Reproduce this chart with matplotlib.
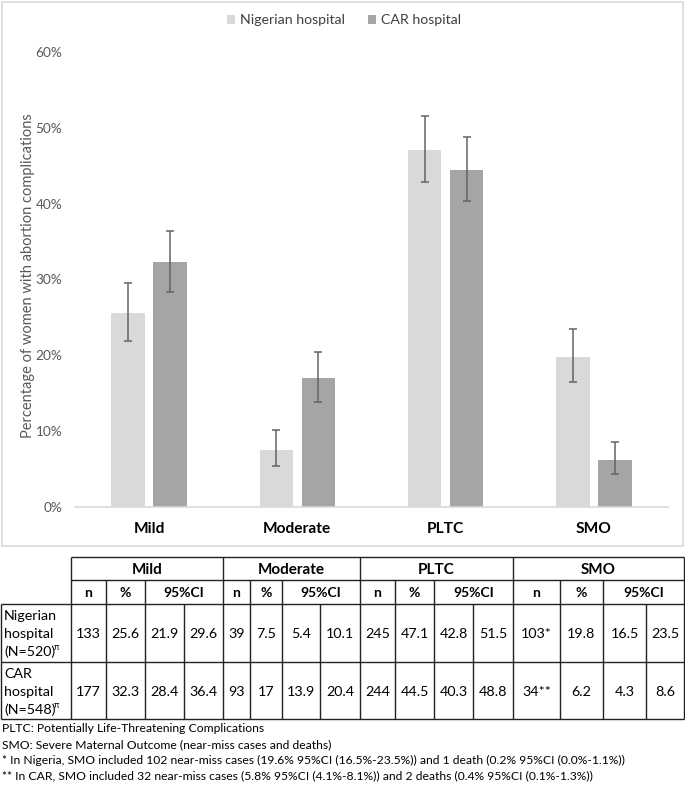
import matplotlib
matplotlib.use("Agg")
import matplotlib.pyplot as plt
import numpy as np

plt.rcParams['font.family'] = ['Lato', 'DejaVu Sans']

categories = ["Mild", "Moderate", "PLTC", "SMO"]
series = ["Nigerian hospital", "CAR hospital"]

nig_n = ["133", "39", "245", "103*"]
nig_pct = [25.6, 7.5, 47.1, 19.8]
nig_lo = [21.9, 5.4, 42.8, 16.5]
nig_hi = [29.6, 10.1, 51.5, 23.5]

car_n = ["177", "93", "244", "34**"]
car_pct = [32.3, 17, 44.5, 6.2]
car_lo = [28.4, 13.9, 40.3, 4.3]
car_hi = [36.4, 20.4, 48.8, 8.6]

row_labels = [["Nigerian", "hospital", "(N=520)"], ["CAR", "hospital", "(N=548)"]]
sub_headers = ["n", "%", "95%CI"]

footnotes = [
    "PLTC: Potentially Life-Threatening Complications",
    "SMO: Severe Maternal Outcome (near-miss cases and deaths)",
    "* In Nigeria, SMO included 102 near-miss cases (19.6% 95%CI (16.5%-23.5%)) and 1 death (0.2% 95%CI (0.0%-1.1%))",
    "** In CAR, SMO included 32 near-miss cases (5.8% 95%CI (4.1%-8.1%)) and 2 deaths (0.4% 95%CI (0.1%-1.3%))",
]

W, H = 685, 786
c_nig = "#d9d9d9"
c_car = "#a5a5a5"
c_err = "#636363"
c_txt = "#595959"

fig = plt.figure(figsize=(W / 100, H / 100), dpi=100)

# overlay in pixel coords for box, table, notes
tax = fig.add_axes([0, 0, 1, 1])
tax.set_xlim(0, W)
tax.set_ylim(H, 0)
tax.axis("off")

# chart axes (pixel box: x 75..668, y 52..507)
ax = fig.add_axes([75 / W, 1 - 507 / H, (668 - 75) / W, (507 - 52) / H])
x = np.arange(len(categories))
bw = 0.225
off = 0.142
nig = np.array(nig_pct)
car = np.array(car_pct)
ax.bar(x - off, nig / 100, bw, color=c_nig, label=series[0])
ax.bar(x + off, car / 100, bw, color=c_car, label=series[1])
ax.errorbar(x - off, nig / 100,
            yerr=[(nig - np.array(nig_lo)) / 100, (np.array(nig_hi) - nig) / 100],
            fmt="none", ecolor=c_err, elinewidth=1.1, capsize=2.6, capthick=1.1)
ax.errorbar(x + off, car / 100,
            yerr=[(car - np.array(car_lo)) / 100, (np.array(car_hi) - car) / 100],
            fmt="none", ecolor=c_err, elinewidth=1.1, capsize=2.6, capthick=1.1)
ax.set_xlim(-0.5, 3.5)
ax.set_ylim(0, 0.6)
ax.set_yticks(np.arange(0, 0.61, 0.1))
ax.set_yticklabels([f"{int(round(v * 100))}%" for v in np.arange(0, 0.61, 0.1)])
ax.set_xticks(x)
ax.set_xticklabels(categories, fontweight="bold", fontsize=11.2, color="#000000")
ax.tick_params(axis="y", length=0, pad=9, labelsize=9.8, labelcolor=c_txt)
ax.tick_params(axis="x", length=0, pad=11)
for s in ["top", "right", "left"]:
    ax.spines[s].set_visible(False)
ax.spines["bottom"].set_color("#d9d9d9")
ax.spines["bottom"].set_linewidth(1.2)
ax.set_facecolor("none")

leg = fig.legend(loc="center", bbox_to_anchor=(344 / W, 1 - 20 / H), ncol=2, frameon=False,
                 handlelength=0.6, handleheight=0.6, handletextpad=0.35, columnspacing=1.6,
                 fontsize=10.2)
for t in leg.get_texts():
    t.set_color("#404040")

tax.text(28, 276, "Percentage of women with abortion complications", rotation=90,
         ha="center", va="center", fontsize=10.5, color=c_txt)

# chart border
tax.add_patch(plt.Rectangle((2, 2), 681, 544, fill=False, edgecolor="#d9d9d9", lw=1.2))

# ---- table ----
col_x = [0, 71, 106, 145, 184, 223, 250, 282, 320, 360, 395, 434, 473, 513, 560, 603, 646, 684]
row_y = [557, 580, 604, 662, 719]
lc = "#222222"
lw = 1.0

def hline(y, x0, x1):
    tax.plot([x0, x1], [y, y], color=lc, lw=lw, solid_capstyle="butt")

def vline(xx, y0, y1):
    tax.plot([xx, xx], [y0, y1], color=lc, lw=lw, solid_capstyle="butt")

hline(row_y[0], col_x[1], col_x[-1])
hline(row_y[1], col_x[1], col_x[-1])
for yy in row_y[2:]:
    hline(yy, col_x[0] + 0.5, col_x[-1])
vline(col_x[0] + 0.5, row_y[2], row_y[4])
# group borders go full height
for gi in [1, 5, 9, 13, 17]:
    vline(col_x[gi], row_y[0], row_y[4])
# inner column borders
for g in range(4):
    b = 1 + 4 * g
    vline(col_x[b + 1], row_y[1], row_y[4])
    vline(col_x[b + 2], row_y[1], row_y[4])
    vline(col_x[b + 3], row_y[2], row_y[4])

for g, cat in enumerate(categories):
    b = 1 + 4 * g
    tax.text((col_x[b] + col_x[b + 4]) / 2, (row_y[0] + row_y[1]) / 2 + 1, cat,
             ha="center", va="center", fontsize=11, fontweight="bold")
    ym = (row_y[1] + row_y[2]) / 2 + 1
    tax.text((col_x[b] + col_x[b + 1]) / 2, ym, sub_headers[0], ha="center", va="center",
             fontsize=10, fontweight="bold")
    tax.text((col_x[b + 1] + col_x[b + 2]) / 2, ym, sub_headers[1], ha="center", va="center",
             fontsize=10, fontweight="bold")
    tax.text((col_x[b + 2] + col_x[b + 4]) / 2, ym, sub_headers[2], ha="center", va="center",
             fontsize=10, fontweight="bold")

rows = [
    (nig_n, nig_pct, nig_lo, nig_hi),
    (car_n, car_pct, car_lo, car_hi),
]
for r, (nn, pp, lo, hi) in enumerate(rows):
    yc = (row_y[2 + r] + row_y[3 + r]) / 2 + 1
    for k, line in enumerate(row_labels[r]):
        tax.text(4, yc + (k - 1) * 18, line, ha="left", va="center", fontsize=10.3)
    tax.text(54, yc + 18 - 4, "\u03c0", ha="left", va="center", fontsize=6.5)
    for g in range(4):
        b = 1 + 4 * g
        vals = [nn[g], f"{pp[g]:g}", f"{lo[g]:g}", f"{hi[g]:g}"]
        for j, v in enumerate(vals):
            tax.text((col_x[b + j] + col_x[b + j + 1]) / 2, yc, v,
                     ha="center", va="center", fontsize=10.3)

for i, note in enumerate(footnotes):
    tax.text(2, 729 + i * 15.7, note, ha="left", va="center", fontsize=8.7)

fig.savefig("out.png", dpi=100)
